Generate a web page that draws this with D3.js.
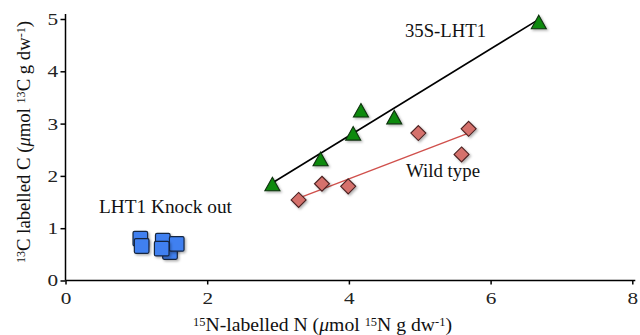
<!doctype html>
<html lang="en">
	<head>
		<meta charset="UTF-8" />
		<title>13C vs 15N</title>
		<script src="https://d3js.org/d3.v7.min.js"></script>
		<style>
			body {
				margin: 0;
				background: #fff;
			}
			.axis path,
			.axis line {
				stroke: #000;
				stroke-width: 1.5px;
			}
		</style>
	</head>
	<body>
		<svg width="640" height="335"></svg>
		<script>
			// 35S-LHT1 (triangles)
			const overN = [2.92, 3.6, 4.06, 4.17, 4.64, 6.68]
			const overC = [1.82, 2.3, 2.79, 3.23, 3.1, 4.92]
			const overFit = [[2.9, 1.85], [6.64, 4.96]]

			// Wild type (diamonds)
			const wildN = [3.29, 3.62, 3.99, 4.98, 5.59, 5.69]
			const wildC = [1.54, 1.85, 1.8, 2.82, 2.41, 2.9]
			const wildFit = [[3.3, 1.58], [5.67, 2.81]]

			// LHT1 knock out (squares), back to front
			const koN = [1.056, 1.075, 1.373, 1.475, 1.57, 1.358]
			const koC = [0.8, 0.66, 0.76, 0.545, 0.7, 0.61]

			const xTicks = [0, 2, 4, 6, 8]
			const yTicks = [0, 1, 2, 3, 4, 5]

			const serif = "'Liberation Serif', 'Times New Roman', Times, serif"

			const svg = d3.select('svg').attr('font-family', serif)
			const x = d3.scaleLinear().domain([0, 8]).range([65.5, 632.3])
			const y = d3.scaleLinear().domain([0, 5]).range([280.5, 19])

			const f = svg
				.append('defs')
				.append('filter')
				.attr('id', 'shadow')
				.attr('x', '-50%')
				.attr('y', '-50%')
				.attr('width', '200%')
				.attr('height', '200%')
			f.append('feDropShadow')
				.attr('dx', 1.5)
				.attr('dy', 1.5)
				.attr('stdDeviation', 1.2)
				.attr('flood-color', '#000')
				.attr('flood-opacity', 0.3)

			// axes
			const xAxis = svg
				.append('g')
				.attr('class', 'axis')
				.attr('transform', `translate(0,${y(0)})`)
				.call(d3.axisBottom(x).tickValues(xTicks).tickFormat(d3.format('d')).tickSize(4).tickPadding(7))
				.attr('font-family', serif)
				.attr('font-size', 17)
			xAxis.select('.domain').attr('d', `M${x(0)},0H${x(8) + 3}`)
			xAxis.selectAll('text').attr('fill', '#222').attr('transform', 'scale(1.25,1)')

			const yAxis = svg
				.append('g')
				.attr('class', 'axis')
				.attr('transform', `translate(${x(0)},0)`)
				.call(d3.axisLeft(y).tickValues(yTicks).tickFormat(d3.format('d')).tickSize(5).tickPadding(1))
				.attr('font-family', serif)
				.attr('font-size', 17)
			yAxis.select('.domain').attr('d', `M0,${y(0)}V${y(5) - 5}`)
			yAxis.selectAll('text').attr('fill', '#222').attr('transform', 'scale(1.25,1)')

			// axis titles
			function title(el, iso, rest, unit) {
				el.append('tspan').attr('baseline-shift', '38%').attr('font-size', 12).text(iso)
				el.append('tspan').text(rest + ' (')
				el.append('tspan').attr('font-style', 'italic').text('μ')
				el.append('tspan').text('mol ')
				el.append('tspan').attr('baseline-shift', '38%').attr('font-size', 12).text(iso)
				el.append('tspan').text(unit + ' g dw')
				el.append('tspan').attr('baseline-shift', '38%').attr('font-size', 12).text('-1')
				el.append('tspan').text(')')
			}

			const xt = svg
				.append('text')
				.attr('x', 193)
				.attr('y', 331)
				.attr('font-size', 19)
				.attr('fill', '#111')
				.attr('textLength', 259)
				.attr('lengthAdjust', 'spacingAndGlyphs')
			title(xt, '15', 'N-labelled N', 'N')

			const yt = svg
				.append('text')
				.attr('transform', 'translate(30,263) rotate(-90)')
				.attr('font-size', 18.5)
				.attr('fill', '#111')
				.attr('textLength', 242)
				.attr('lengthAdjust', 'spacingAndGlyphs')
			title(yt, '13', 'C labelled C', 'C')

			// fit lines
			const line = d3
				.line()
				.x((d) => x(d[0]))
				.y((d) => y(d[1]))
			svg.append('path')
				.attr('d', line(overFit))
				.attr('stroke', '#000')
				.attr('stroke-width', 1.6)
				.attr('fill', 'none')
			svg.append('path')
				.attr('d', line(wildFit))
				.attr('stroke', '#d0504c')
				.attr('stroke-width', 1.4)
				.attr('fill', 'none')

			// squares
			svg.append('g')
				.selectAll('rect')
				.data(d3.zip(koN, koC))
				.join('rect')
				.attr('x', (d) => x(d[0]) - 7.3)
				.attr('y', (d) => y(d[1]) - 7.3)
				.attr('width', 14.6)
				.attr('height', 14.6)
				.attr('rx', 1.5)
				.attr('fill', '#3f80f0')
				.attr('stroke', '#152540')
				.attr('stroke-width', 1.2)
				.attr('filter', 'url(#shadow)')

			// diamonds
			svg.append('g')
				.selectAll('path')
				.data(d3.zip(wildN, wildC))
				.join('path')
				.attr('d', 'M0,-7.5L7.5,0L0,7.5L-7.5,0Z')
				.attr('transform', (d) => `translate(${x(d[0])},${y(d[1])})`)
				.attr('fill', '#d5716c')
				.attr('stroke', '#4a2020')
				.attr('stroke-width', 1.1)
				.attr('filter', 'url(#shadow)')

			// triangles
			svg.append('g')
				.selectAll('path')
				.data(d3.zip(overN, overC))
				.join('path')
				.attr('d', 'M0,-8L7.5,5.5L-7.5,5.5Z')
				.attr('transform', (d) => `translate(${x(d[0])},${y(d[1])})`)
				.attr('fill', '#108a10')
				.attr('stroke', '#0a300a')
				.attr('stroke-width', 1.1)
				.attr('filter', 'url(#shadow)')

			// group labels
			const labels = [
				['35S-LHT1', 405, 37, 81],
				['Wild type', 406, 177, 74],
				['LHT1 Knock out', 99, 213, 133],
			]
			svg.append('g')
				.selectAll('text')
				.data(labels)
				.join('text')
				.attr('x', (d) => d[1])
				.attr('y', (d) => d[2])
				.attr('font-size', 18.5)
				.attr('fill', '#111')
				.attr('textLength', (d) => d[3])
				.attr('lengthAdjust', 'spacingAndGlyphs')
				.text((d) => d[0])
		</script>
	</body>
</html>
